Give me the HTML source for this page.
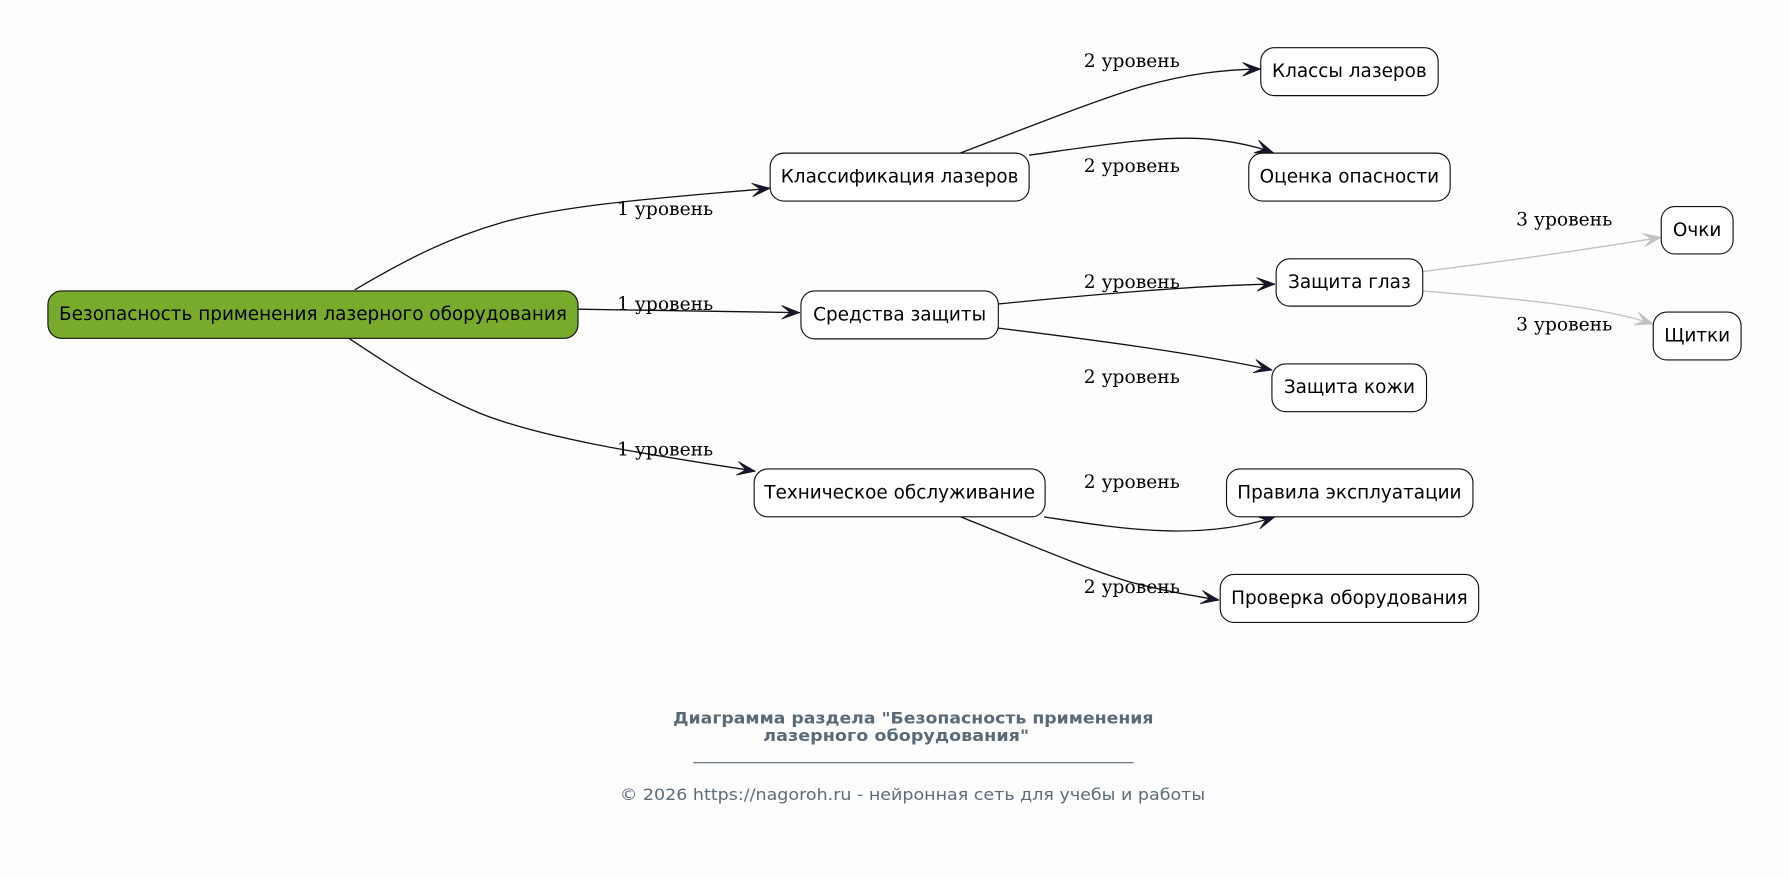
<!DOCTYPE html>
<html>
<head>
<meta charset="utf-8">
<style>
  html, body { margin: 0; padding: 0; background: #fdfdfd; }
  svg { display: block; }
  .node { fill: #ffffff; stroke: #111; stroke-width: 1; }
  .nt { font-family: "DejaVu Sans", "Liberation Sans", sans-serif; font-size: 16.15px; fill: #000; text-anchor: middle; }
  .el { font-family: "DejaVu Serif", "Liberation Serif", serif; font-size: 16.36px; fill: #000; text-anchor: middle; }
  .e { fill: none; stroke: #111; stroke-width: 1.15; }
  .g { fill: none; stroke: #c0c0c0; stroke-width: 1.15; }
</style>
</head>
<body>
<svg width="1789" height="879" viewBox="0 0 1568 770.4" xmlns="http://www.w3.org/2000/svg">
  <defs>
    <marker id="ad" markerUnits="userSpaceOnUse" viewBox="0 0 16 13" markerWidth="16" markerHeight="13" refX="16" refY="6.5" orient="auto">
      <path d="M0,0.5 L16,6.5 L0,12.5 L7.5,6.5 Z" fill="#1b1530" stroke="#111" stroke-width="0.6"/>
    </marker>
    <marker id="ag" markerUnits="userSpaceOnUse" viewBox="0 0 16 13" markerWidth="16" markerHeight="13" refX="16" refY="6.5" orient="auto">
      <path d="M0,0.5 L16,6.5 L0,12.5 L7.5,6.5 Z" fill="#c0c0c0" stroke="#c0c0c0" stroke-width="0.6"/>
    </marker>
  </defs>
  <rect x="0" y="0" width="1568" height="770.4" fill="#fdfdfd"/>

  <!-- Edges level 1 -->
  <path class="e" d="M311,254 C360,225 395,208 440,195 C500,178 600,172 675,165" marker-end="url(#ad)"/>
  <path class="e" d="M506.6,271 L701,274" marker-end="url(#ad)"/>
  <path class="e" d="M305,296 C350,326 380,345 420,362 C480,386 580,400 662,413" marker-end="url(#ad)"/>

  <!-- Edges level 2 -->
  <path class="e" d="M842,134 C900,112 960,88 1000,76 C1040,65 1070,61 1105,60.5" marker-end="url(#ad)"/>
  <path class="e" d="M902,136 C960,128 1020,118 1060,122 C1080,124 1100,128 1116,133.8" marker-end="url(#ad)"/>
  <path class="e" d="M874,266.5 C960,258 1050,250 1117.5,249" marker-end="url(#ad)"/>
  <path class="e" d="M874,287.5 C960,298 1050,310 1115,324.3" marker-end="url(#ad)"/>
  <path class="e" d="M915,453 C980,463 1050,475 1117.5,453" marker-end="url(#ad)"/>
  <path class="e" d="M842,453 C900,476 950,498 990,510 C1020,518 1045,522 1068.5,526" marker-end="url(#ad)"/>

  <!-- Edges level 3 (gray) -->
  <path class="g" d="M1247,238 C1320,229 1400,217 1456,208" marker-end="url(#ag)"/>
  <path class="g" d="M1247,255 C1330,262 1400,268 1449,284" marker-end="url(#ag)"/>

  <!-- Edge labels -->
  <text class="el" x="583" y="188.5">1 уровень</text>
  <text class="el" x="583" y="271.7">1 уровень</text>
  <text class="el" x="583" y="399.4">1 уровень</text>
  <text class="el" x="992" y="58.6">2 уровень</text>
  <text class="el" x="992" y="150.6">2 уровень</text>
  <text class="el" x="992" y="252.6">2 уровень</text>
  <text class="el" x="992" y="335.8">2 уровень</text>
  <text class="el" x="992" y="427.9">2 уровень</text>
  <text class="el" x="992" y="519.8">2 уровень</text>
  <text class="el" x="1371" y="197.5">3 уровень</text>
  <text class="el" x="1371" y="289.5">3 уровень</text>

  <!-- Root -->
  <rect x="42" y="255" width="464.6" height="41.5" rx="12" ry="12" fill="#78ab2b" stroke="#111" stroke-width="1"/>
  <text class="nt" x="274.3" y="280.5">Безопасность применения лазерного оборудования</text>

  <!-- Level 1 nodes -->
  <rect class="node" x="675" y="134.2" width="227" height="42" rx="12" ry="12"/>
  <text class="nt" x="788.5" y="160">Классификация лазеров</text>

  <rect class="node" x="702" y="255" width="173" height="42" rx="12" ry="12"/>
  <text class="nt" x="788.5" y="281">Средства защиты</text>

  <rect class="node" x="661" y="411" width="255" height="42" rx="12" ry="12"/>
  <text class="nt" x="788.5" y="437">Техническое обслуживание</text>

  <!-- Level 2 nodes -->
  <rect class="node" x="1105" y="41.8" width="155.5" height="42" rx="12" ry="12"/>
  <text class="nt" x="1182.7" y="67.6">Классы лазеров</text>

  <rect class="node" x="1094.5" y="134.2" width="176.5" height="42" rx="12" ry="12"/>
  <text class="nt" x="1182.7" y="160">Оценка опасности</text>

  <rect class="node" x="1118.5" y="226.8" width="128.5" height="41.5" rx="12" ry="12"/>
  <text class="nt" x="1182.7" y="252.5">Защита глаз</text>

  <rect class="node" x="1114.8" y="319" width="135.5" height="41.8" rx="12" ry="12"/>
  <text class="nt" x="1182.7" y="344.6">Защита кожи</text>

  <rect class="node" x="1075" y="411" width="216" height="42" rx="12" ry="12"/>
  <text class="nt" x="1182.7" y="437">Правила эксплуатации</text>

  <rect class="node" x="1069.5" y="503.5" width="226.5" height="42" rx="12" ry="12"/>
  <text class="nt" x="1182.7" y="529.5">Проверка оборудования</text>

  <!-- Level 3 nodes -->
  <rect class="node" x="1456" y="181" width="63" height="41.6" rx="12" ry="12"/>
  <text class="nt" x="1487.5" y="206.8">Очки</text>

  <rect class="node" x="1449" y="273.5" width="77" height="42" rx="12" ry="12"/>
  <text class="nt" x="1487.5" y="299.5">Щитки</text>

  <!-- Footer -->
  <text x="800.5" y="634" text-anchor="middle" font-family="DejaVu Sans, Liberation Sans, sans-serif" font-weight="bold" font-size="14" fill="#5a6878" textLength="421" lengthAdjust="spacingAndGlyphs">Диаграмма раздела "Безопасность применения</text>
  <text x="785.5" y="649.5" text-anchor="middle" font-family="DejaVu Sans, Liberation Sans, sans-serif" font-weight="bold" font-size="14" fill="#5a6878" textLength="233" lengthAdjust="spacingAndGlyphs">лазерного оборудования"</text>
  <line x1="607.5" y1="668.5" x2="993.5" y2="668.5" stroke="#5a6878" stroke-width="1"/>
  <text x="799.8" y="701" text-anchor="middle" font-family="DejaVu Sans, Liberation Sans, sans-serif" font-size="14" fill="#5c6b7a" textLength="513" lengthAdjust="spacingAndGlyphs">© 2026 https://nagoroh.ru - нейронная сеть для учебы и работы</text>
</svg>
</body>
</html>
